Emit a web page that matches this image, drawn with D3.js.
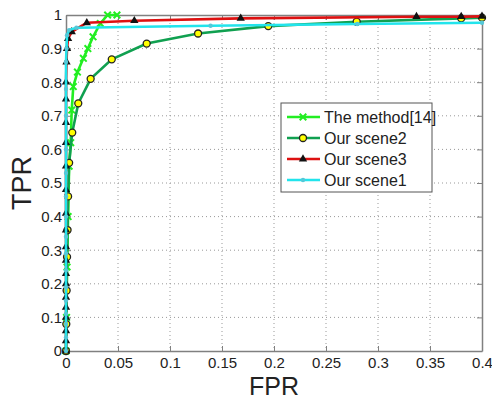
<!DOCTYPE html>
<html>
<head>
<meta charset="utf-8">
<script src="https://cdn.jsdelivr.net/npm/d3@7"></script>
<style>
  body { margin: 0; background: #fff; }
  text { font-family: Arial, "Liberation Sans", sans-serif; fill: #222; }
</style>
</head>
<body>
<div id="chart"></div>
<script>
// ROC curve values
const methodFPR = [0, 0.0005, 0.001, 0.002, 0.003, 0.0045, 0.0055, 0.007, 0.011, 0.0167, 0.021, 0.026, 0.033, 0.04, 0.049];
const methodTPR = [0, 0.1, 0.25, 0.4, 0.55, 0.62, 0.717, 0.787, 0.83, 0.871, 0.9, 0.935, 0.975, 1.0, 1.0];

const scene2FPR = [0, 0.0003, 0.0006, 0.001, 0.0015, 0.002, 0.003, 0.006, 0.0118, 0.0237, 0.044, 0.0776, 0.127, 0.1945, 0.2795, 0.38, 0.4];
const scene2TPR = [0, 0.08, 0.18, 0.28, 0.36, 0.46, 0.56, 0.65, 0.737, 0.81, 0.868, 0.915, 0.945, 0.967, 0.98, 0.99, 0.992];

const scene3FPR = [0, 0, 0, 0, 0, 0, 0, 0, 0, 0, 0, 0, 0, 0, 0, 0, 0, 0, 0.0005, 0.001, 0.002, 0.0055, 0.02, 0.0657, 0.168, 0.337, 0.38, 0.4];
const scene3TPR = [0, 0.03, 0.06, 0.1, 0.13, 0.16, 0.2, 0.23, 0.27, 0.31, 0.36, 0.41, 0.48, 0.55, 0.62, 0.68, 0.75, 0.8, 0.86, 0.9, 0.93, 0.95, 0.977, 0.983, 0.99, 0.995, 0.995, 0.996];

const scene1FPR = [0, 0, 0, 0, 0, 0, 0, 0, 0, 0, 0, 0, 0, 0, 0, 0, 0.0005, 0.001, 0.003, 0.01, 0.139, 0.28, 0.4];
const scene1TPR = [0, 0.04, 0.08, 0.11, 0.15, 0.19, 0.24, 0.29, 0.34, 0.4, 0.46, 0.53, 0.6, 0.7, 0.78, 0.86, 0.9, 0.94, 0.955, 0.962, 0.968, 0.973, 0.977];

const xTicks = [0, 0.05, 0.1, 0.15, 0.2, 0.25, 0.3, 0.35, 0.4];
const yTicks = [0, 0.1, 0.2, 0.3, 0.4, 0.5, 0.6, 0.7, 0.8, 0.9, 1];

const seriesNames = ['The method[14]', 'Our scene2', 'Our scene3', 'Our scene1'];
const seriesColors = ['#22ee22', '#10a050', '#dd1111', '#22e4ec'];
const seriesMarkers = ['x', 'circle', 'triangle', 'dot'];

const W = 492, H = 401;
const margin = { top: 15, right: 10, bottom: 50, left: 66 };
const width = W - margin.left - margin.right;
const height = H - margin.top - margin.bottom;

const svg = d3.select('#chart').append('svg')
  .attr('width', W).attr('height', H);
const g = svg.append('g').attr('transform', `translate(${margin.left},${margin.top})`);

const x = d3.scaleLinear().domain([0, 0.4]).range([0, width]);
const y = d3.scaleLinear().domain([0, 1]).range([height, 0]);

// grid
g.append('g').selectAll('line').data(xTicks.slice(1, -1)).enter().append('line')
  .attr('x1', d => x(d)).attr('x2', d => x(d)).attr('y1', 0).attr('y2', height)
  .attr('stroke', '#999').attr('stroke-width', 1).attr('stroke-dasharray', '1,3');
g.append('g').selectAll('line').data(yTicks.slice(1, -1)).enter().append('line')
  .attr('y1', d => y(d)).attr('y2', d => y(d)).attr('x1', 0).attr('x2', width)
  .attr('stroke', '#999').attr('stroke-width', 1).attr('stroke-dasharray', '1,3');

// axes
g.append('g').attr('transform', `translate(0,${height})`)
  .call(d3.axisBottom(x).tickValues(xTicks).tickFormat(d3.format('')).tickSizeInner(-5).tickSizeOuter(0).tickPadding(6));
g.append('g')
  .call(d3.axisLeft(y).tickValues(yTicks).tickFormat(d3.format('')).tickSizeInner(-5).tickSizeOuter(0).tickPadding(4));
g.append('g').attr('transform', `translate(${width},0)`)
  .call(d3.axisRight(y).tickValues(yTicks).tickFormat('').tickSizeInner(-5).tickSizeOuter(0));
g.append('g')
  .call(d3.axisTop(x).tickValues(xTicks).tickFormat('').tickSizeInner(-5).tickSizeOuter(0));
g.selectAll('.domain').attr('stroke', '#808080').attr('stroke-width', 1.5);
g.selectAll('.tick line').attr('stroke', '#808080');
g.selectAll('.tick text').style('font-size', '15px').attr('fill', '#222')
  .style('font-family', 'Arial, "Liberation Sans", sans-serif');

// series
const allData = [
  d3.zip(methodFPR, methodTPR),
  d3.zip(scene2FPR, scene2TPR),
  d3.zip(scene3FPR, scene3TPR),
  d3.zip(scene1FPR, scene1TPR)
];
const line = d3.line().x(d => x(d[0])).y(d => y(d[1]));

function drawMarker(sel, kind, color) {
  if (kind === 'x') {
    sel.append('path').attr('d', d3.symbol(d3.symbolX, 30)())
      .attr('stroke', color).attr('stroke-width', 2).attr('fill', 'none');
  } else if (kind === 'circle') {
    sel.append('circle').attr('r', 3.5).attr('fill', '#ffff00')
      .attr('stroke', '#222').attr('stroke-width', 1.3);
  } else if (kind === 'triangle') {
    sel.append('path').attr('d', d3.symbol(d3.symbolTriangle, 30)())
      .attr('fill', '#111');
  } else {
    sel.append('circle').attr('r', 2.2).attr('fill', '#55c8d8');
  }
}

allData.forEach((data, i) => {
  g.append('path').datum(data)
    .attr('fill', 'none').attr('stroke', seriesColors[i]).attr('stroke-width', 2.6)
    .attr('d', line);
  const m = g.append('g').selectAll('g').data(data).enter().append('g')
    .attr('transform', d => `translate(${x(d[0])},${y(d[1])})`);
  drawMarker(m, seriesMarkers[i], seriesColors[i]);
});

// legend
const legend = svg.append('g').attr('transform', 'translate(281,103)');
legend.append('rect').attr('width', 151).attr('height', 89)
  .attr('fill', '#fff').attr('stroke', '#555').attr('stroke-width', 1);
const rows = legend.selectAll('.row').data(seriesNames).enter().append('g')
  .attr('class', 'row')
  .attr('transform', (d, i) => `translate(0,${14 + i * 21})`);
rows.append('line').attr('x1', 6).attr('x2', 39).attr('y1', 0).attr('y2', 0)
  .attr('stroke', (d, i) => seriesColors[i]).attr('stroke-width', 2.6);
rows.each(function(d, i) {
  const mg = d3.select(this).append('g').attr('transform', 'translate(22,0)');
  drawMarker(mg, seriesMarkers[i], seriesColors[i]);
});
rows.append('text').attr('x', 43).attr('y', 0).attr('dy', '0.36em')
  .style('font-size', '16px').text(d => d);

// axis labels
svg.append('text').attr('x', margin.left + width / 2).attr('y', 395)
  .attr('text-anchor', 'middle').style('font-size', '25px').text('FPR');
svg.append('text').attr('transform', `translate(31,${margin.top + height / 2}) rotate(-90)`)
  .attr('text-anchor', 'middle').style('font-size', '27px').text('TPR');
</script>
</body>
</html>
